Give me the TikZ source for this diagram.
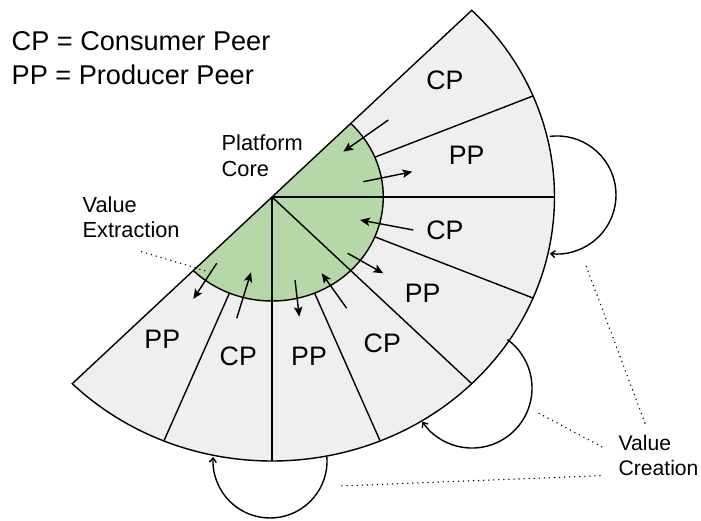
\documentclass[tikz,border=0pt]{standalone}
\usepackage{fontspec}
\setmainfont{Liberation Sans}
\usetikzlibrary{arrows.meta}
\definecolor{coregreen}{HTML}{B6D7A8}
\definecolor{peergray}{HTML}{EFEFEF}

\begin{document}
\begin{tikzpicture}[x=0.025cm,y=0.025cm,line width=1pt,
  peer/.style={font=\fontsize{19}{22}\selectfont,inner sep=0pt},
  note/.style={font=\fontsize{15.5}{18.2}\selectfont,align=left,anchor=north west,inner sep=0pt},
  flow/.style={-{Stealth[length=7pt,width=6pt,inset=1.5pt]}},
  cyc/.style={-{Straight Barb[length=3pt,width=5pt]}},
  dots/.style={line width=1.1pt,line cap=round,dash pattern=on 0pt off 3.6pt}]

\useasboundingbox (0,0) rectangle (701,520);

\begin{scope}[shift={(272,323)},xscale=1.07]
\fill[peergray] (0,0) -- (45:264) arc[start angle=45,end angle=-135,radius=264] -- cycle;
\fill[coregreen] (0,0) -- (45:104) arc[start angle=45,end angle=-135,radius=104] -- cycle;
\draw (45:264) arc[start angle=45,end angle=-135,radius=264] -- cycle;
\draw (45:104) arc[start angle=45,end angle=-135,radius=104];
\foreach \a in {0,-45,-90} \draw (0,0) -- (\a:264);
\foreach \a in {22.5,-22.5,-67.5,-112.5} \draw (\a:104) -- (\a:264);
\end{scope}

\node[peer] (cp1) at (445,440) {CP};
\node[peer] (pp1) at (466.7,365) {PP};
\node[peer] (cp2) at (445,290) {CP};
\node[peer] (pp2) at (422.7,226.7) {PP};
\node[peer] (cp3) at (382.3,176.7) {CP};
\node[peer] (pp3) at (309,164) {PP};
\node[peer] (cp4) at (238.3,164) {CP};
\node[peer] (pp4) at (162.3,180.7) {PP};

\draw[flow] (388.3,400) -- (343.3,368.3);
\draw[flow] (363.3,338.3) -- (412.3,348.3);
\draw[flow] (413.3,290) -- (360,300);
\draw[flow] (347.7,266.7) -- (383.3,246.7);
\draw[flow] (346.7,211.7) -- (321.7,246.7);
\draw[flow] (295,240) -- (299.3,203.3);
\draw[flow] (236.7,201.7) -- (251,247.7);
\draw[flow] (216.7,256.7) -- (193.3,221);

\draw[cyc] (549.8,383.6) arc[start angle=97,end angle=-97,radius=59];
\draw[cyc] (507.3,180.5) arc[start angle=54,end angle=-146,radius=60];
\draw[cyc] (326.9,63) arc[start angle=4,end angle=-184,radius=57];

\node[note,font=\fontsize{19.3}{24.6}\selectfont] (legend) at (11,489.3) {CP = Consumer Peer\\PP = Producer Peer};
\node[note] (core) at (221,385.7) {Platform\\Core};
\node[note] (extract) at (82,324.3) {Value\\Extraction};
\node[note,font=\fontsize{15}{17.7}\selectfont] (create) at (618,85.7) {Value\\Creation};

\coordinate (ve1) at (141.7,268.3);
\coordinate (ve2) at (205,249.3);
\coordinate (vc1) at (645,97);
\coordinate (vc2) at (601.7,73.3);
\coordinate (vc3) at (600,44.3);
\coordinate (loopr) at (585,257);
\coordinate (loopm) at (537.7,107.3);
\coordinate (loopb) at (340,34);

\draw[dots] (ve1) -- (ve2);
\draw[dots] (vc1) -- (loopr);
\draw[dots] (vc2) -- (loopm);
\draw[dots] (vc3) -- (loopb);

\end{tikzpicture}
\end{document}
